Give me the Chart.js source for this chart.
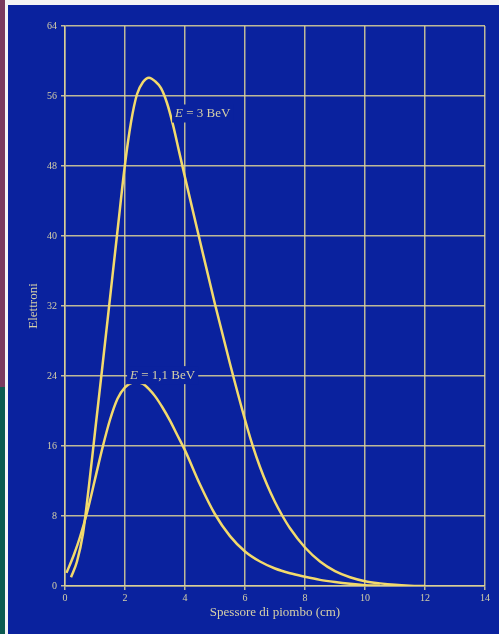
<!DOCTYPE html>
<html>
<head>
<meta charset="utf-8">
<script src="https://cdn.jsdelivr.net/npm/chart.js@4.4.1/dist/chart.umd.min.js"></script>
<style>
  html, body { margin: 0; padding: 0; background: #0a229e; }
  #wrap { position: relative; width: 499px; height: 634px; overflow: hidden; background: #0a229e; }
  #wrap canvas { position: absolute; left: 0; top: 0; }
  .edge { position: absolute; }
</style>
</head>
<body>
<div id="wrap">
  <canvas id="shower" width="499" height="634"></canvas>
  <div class="edge" style="left:0;top:0;width:5px;height:387px;background:#7a3a5e"></div>
  <div class="edge" style="left:0;top:387px;width:5px;height:247px;background:#0b5a50"></div>
  <div class="edge" style="left:5px;top:0;width:3px;height:634px;background:#f4f4f4"></div>
  <div class="edge" style="left:5px;top:0;width:494px;height:5px;background:#f4f4f4"></div>
</div>
<script>
// Shower curves: electrons vs lead thickness
const xTickValues = [0, 2, 4, 6, 8, 10, 12, 14];
const yTickValues = [0, 8, 16, 24, 32, 40, 48, 56, 64];

const e3X = [0.2, 0.4, 0.6, 0.8, 1.0, 1.25, 1.5, 1.75, 2.0, 2.2, 2.4, 2.6, 2.8, 3.0, 3.2, 3.4, 3.6, 3.8, 4.0, 4.5, 5.0, 5.5, 6.0, 6.25, 6.5, 6.75, 7.0, 7.25, 7.5, 8.0, 8.5, 9.0, 9.5, 10, 10.5, 11, 11.5, 12];
const e3Y = [1.0, 2.8, 6.0, 11.5, 17.6, 25.2, 32.9, 40.6, 48.2, 53.0, 56.2, 57.6, 58.1, 57.7, 56.9, 55.2, 52.7, 49.7, 46.7, 39.4, 32.2, 25.4, 19.0, 16.1, 13.6, 11.45, 9.6, 8.0, 6.6, 4.4, 2.8, 1.7, 1.0, 0.55, 0.3, 0.13, 0.04, 0];

const e11X = [0.05, 0.3, 0.5, 0.75, 1.0, 1.25, 1.5, 1.75, 2.0, 2.25, 2.4, 2.6, 2.8, 3.0, 3.25, 3.5, 3.75, 4.0, 4.5, 5.0, 5.5, 6.0, 6.5, 7.0, 7.5, 8.0, 8.5, 9.0, 9.5, 10, 10.5];
const e11Y = [1.5, 3.6, 5.6, 8.6, 12.2, 15.8, 19.0, 21.4, 22.7, 23.25, 23.3, 23.1, 22.5, 21.7, 20.4, 18.9, 17.2, 15.5, 11.6, 8.2, 5.7, 3.95, 2.8, 2.0, 1.45, 1.05, 0.7, 0.45, 0.25, 0.1, 0.02];

const curveLabels = [
  { value: '3', x: 3.67, y: 54.0 },
  { value: '1,1', x: 2.17, y: 24.1 }
];

const BG = '#0a229e';
const GRID = 'rgba(222,212,150,0.85)';
const CURVE = '#f3da6c';
const TEXT = '#d6d0a8';
const SERIF = "'Liberation Serif', 'DejaVu Serif', serif";

function toPoints(xs, ys) {
  return xs.map((x, i) => ({ x: x, y: ys[i] }));
}

// labels with a blue box that cuts the grid, like the printed figure
const labelPlugin = {
  id: 'curveLabels',
  afterDatasetsDraw(chart) {
    const ctx = chart.ctx;
    const xs = chart.scales.x, ys = chart.scales.y;
    ctx.save();
    curveLabels.forEach(lab => {
      const px = xs.getPixelForValue(lab.x);
      const py = ys.getPixelForValue(lab.y);
      ctx.font = 'italic 13px ' + SERIF;
      const wE = ctx.measureText('E').width;
      ctx.font = '13px ' + SERIF;
      const rest = ' = ' + lab.value + ' BeV';
      const wR = ctx.measureText(rest).width;
      ctx.fillStyle = BG;
      ctx.fillRect(px - 3, py - 9, wE + wR + 6, 18);
      ctx.textBaseline = 'middle';
      ctx.textAlign = 'left';
      ctx.fillStyle = TEXT;
      ctx.font = 'italic 13px ' + SERIF;
      ctx.fillText('E', px, py);
      ctx.font = '13px ' + SERIF;
      ctx.fillText(rest, px + wE, py);
    });
    ctx.restore();
  }
};

const ctx = document.getElementById('shower').getContext('2d');

new Chart(ctx, {
  type: 'scatter',
  data: {
    datasets: [
      {
        label: 'E = 3 BeV',
        data: toPoints(e3X, e3Y),
        showLine: true,
        borderColor: CURVE,
        borderWidth: 2.5,
        pointRadius: 0,
        cubicInterpolationMode: 'monotone'
      },
      {
        label: 'E = 1,1 BeV',
        data: toPoints(e11X, e11Y),
        showLine: true,
        borderColor: CURVE,
        borderWidth: 2.5,
        pointRadius: 0,
        cubicInterpolationMode: 'monotone'
      }
    ]
  },
  options: {
    responsive: false,
    devicePixelRatio: 1,
    animation: false,
    layout: { padding: { left: 0, top: 26, right: 14, bottom: 0 } },
    plugins: {
      legend: { display: false },
      tooltip: { enabled: false }
    },
    scales: {
      x: {
        type: 'linear',
        min: 0,
        max: 14,
        afterBuildTicks: s => { s.ticks = xTickValues.map(v => ({ value: v })); },
        afterFit: s => { s.height = 48; },
        grid: { color: GRID, lineWidth: 1.5, tickLength: 4, tickColor: GRID },
        border: { color: GRID, width: 1.5 },
        ticks: { color: TEXT, font: { family: SERIF, size: 10 }, padding: 2, maxRotation: 0 },
        title: {
          display: true,
          text: 'Spessore di piombo (cm)',
          color: TEXT,
          font: { family: SERIF, size: 13 },
          padding: { top: 0, bottom: 14 }
        }
      },
      y: {
        type: 'linear',
        min: 0,
        max: 64,
        afterBuildTicks: s => { s.ticks = yTickValues.map(v => ({ value: v })); },
        afterFit: s => { s.width = 65; },
        grid: { color: GRID, lineWidth: 1.5, tickLength: 4, tickColor: GRID },
        border: { color: GRID, width: 1.5 },
        ticks: { color: TEXT, font: { family: SERIF, size: 10 }, padding: 4 },
        title: {
          display: true,
          text: 'Elettroni',
          color: TEXT,
          font: { family: SERIF, size: 13 },
          padding: { top: 26, bottom: 0 }
        }
      }
    }
  },
  plugins: [labelPlugin]
});
</script>
</body>
</html>
